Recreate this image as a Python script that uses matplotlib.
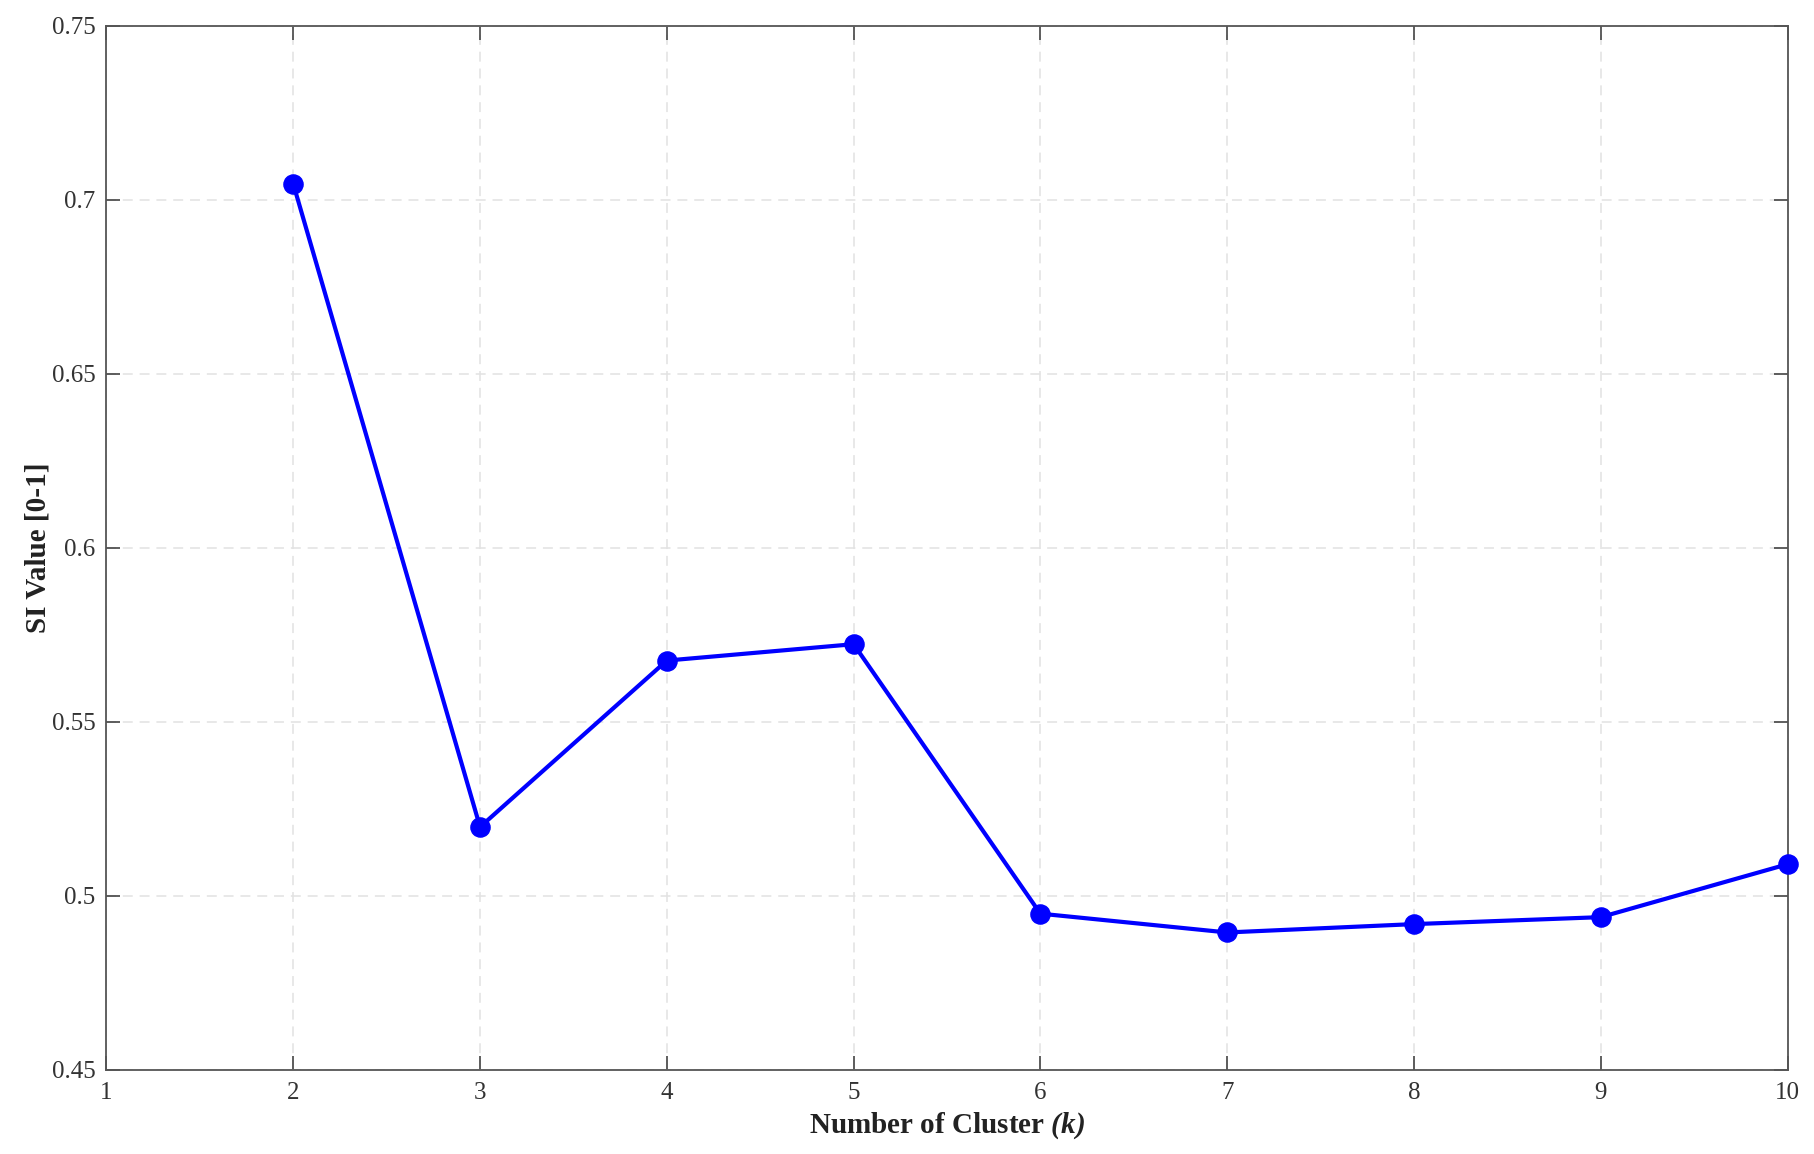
import matplotlib
matplotlib.use("Agg")
import matplotlib.pyplot as plt

k_values = [2, 3, 4, 5, 6, 7, 8, 9, 10]
si_values = [0.7045, 0.5198, 0.5676, 0.5723, 0.4949, 0.4895, 0.4919, 0.4939, 0.5091]
x_ticks = [1, 2, 3, 4, 5, 6, 7, 8, 9, 10]
y_ticks = [0.45, 0.5, 0.55, 0.6, 0.65, 0.7, 0.75]
y_tick_labels = ["0.45", "0.5", "0.55", "0.6", "0.65", "0.7", "0.75"]

plt.rcParams['font.family'] = ['Liberation Serif', 'DejaVu Serif']
plt.rcParams['mathtext.fontset'] = 'custom'
plt.rcParams['mathtext.rm'] = 'Liberation Serif'
plt.rcParams['mathtext.it'] = 'Liberation Serif:italic'
plt.rcParams['mathtext.bf'] = 'Liberation Serif:bold'
plt.rcParams['mathtext.bfit'] = 'Liberation Serif:italic:bold'

fig = plt.figure(figsize=(18.14, 11.54), dpi=100)
ax = fig.add_axes([0.0587, 0.0728, 0.9267, 0.9051])

ax.plot(k_values, si_values, color='#0000ff', linewidth=3.0, marker='o',
        markersize=13.8, markerfacecolor='#0000ff', markeredgecolor='#0000ff',
        zorder=3, clip_on=False)

ax.set_xlim(1, 10)
ax.set_ylim(0.45, 0.75)
ax.set_xticks(x_ticks)
ax.set_xticklabels([str(t) for t in x_ticks])
ax.set_yticks(y_ticks)
ax.set_yticklabels(y_tick_labels)

ax.grid(True, linestyle=(0, (6.5, 4.5)), color='#e2e2e2', linewidth=1.1)
ax.set_axisbelow(True)

for s in ax.spines.values():
    s.set_color('#555555')
    s.set_linewidth(1.3)

ax.tick_params(axis='both', direction='in', length=10, width=1.2, color='#444444',
               labelsize=18, labelcolor='#333333', top=True, right=True)
ax.tick_params(axis='x', pad=9)
ax.tick_params(axis='y', pad=8)

ax.set_xlabel(r'Number of Cluster $\mathbfit{(k)}$', fontsize=21, fontweight='bold',
              color='#222222', labelpad=4)
ax.set_ylabel('SI Value [0-1]', fontsize=21, fontweight='bold', color='#222222', labelpad=0)

fig.savefig('out.png', dpi=100)
